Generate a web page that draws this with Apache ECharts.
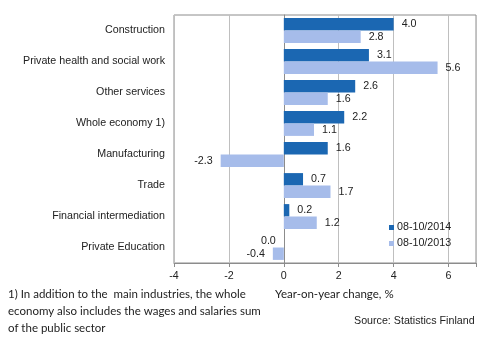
<!DOCTYPE html>
<html>
<head>
<meta charset="utf-8">
<script src="https://cdn.jsdelivr.net/npm/echarts@6/dist/echarts.min.js"></script>
<style>
  html, body { margin: 0; padding: 0; background: #fff; }
  #chart { width: 494px; height: 339px; }
</style>
</head>
<body>
<div id="chart"></div>
<script>
// Industries, top to bottom
const categories = [
  'Construction',
  'Private health and social work',
  'Other services',
  'Whole economy 1)',
  'Manufacturing',
  'Trade',
  'Financial intermediation',
  'Private Education'
];
// Year-on-year change, %
const values2014 = [4.0, 3.1, 2.6, 2.2, 1.6, 0.7, 0.2, 0.0];
const values2013 = [2.8, 5.6, 1.6, 1.1, -2.3, 1.7, 1.2, -0.4];
const seriesNames = ['08-10/2014', '08-10/2013'];
const tickValues = [-4, -2, 0, 2, 4, 6];

const FONT = '"Liberation Sans", Arial, sans-serif';
const NOTE_FONT = 'Lato, "Open Sans", sans-serif';
const FS = 10.7;

function withLabels(vals, forceLeftZero) {
  return vals.map(v => ({
    value: v,
    label: { position: (v < 0 || (forceLeftZero && v === 0)) ? 'left' : 'right' }
  }));
}

const chart = echarts.init(document.getElementById('chart'), null, { renderer: 'canvas' });

chart.setOption({
  animation: false,
  textStyle: { fontFamily: FONT },
  grid: {
    left: 174, right: 18, top: 15, bottom: 76,
    containLabel: false, outerBoundsMode: 'none',
    show: true, borderColor: '#8c8c8c', borderWidth: 1
  },
  xAxis: {
    type: 'value',
    min: -4, max: 7, interval: 2,
    axisLine: { show: true, onZero: false, lineStyle: { color: '#8c8c8c' } },
    axisTick: { show: true, length: 4, lineStyle: { color: '#8c8c8c' } },
    axisLabel: {
      color: '#222', fontSize: FS, fontFamily: FONT, margin: 8,
      formatter: v => tickValues.includes(v) ? String(v) : ''
    },
    splitLine: { show: true, lineStyle: { color: '#bfbfbf' } }
  },
  yAxis: {
    type: 'category',
    data: categories,
    inverse: true,
    axisLine: { show: true, onZero: true, lineStyle: { color: '#8c8c8c' } },
    axisTick: { show: false },
    axisLabel: { color: '#222', fontSize: FS, fontFamily: FONT, margin: 9 }
  },
  legend: {
    orient: 'vertical',
    left: 384, top: 217,
    itemWidth: 5, itemHeight: 5, itemGap: 5,
    icon: 'rect',
    textStyle: { color: '#222', fontSize: FS, fontFamily: FONT, padding: [0, 0, 0, -2] },
    data: seriesNames
  },
  series: [
    {
      name: seriesNames[0], type: 'bar',
      data: withLabels(values2014, true),
      itemStyle: { color: '#1b67b2' },
      barCategoryGap: '20%', barGap: '0%',
      label: { show: true, distance: 8, color: '#222', fontSize: FS, fontFamily: FONT, formatter: p => p.value.toFixed(1) }
    },
    {
      name: seriesNames[1], type: 'bar',
      data: withLabels(values2013, false),
      itemStyle: { color: '#a6bcea' },
      barCategoryGap: '20%', barGap: '0%',
      label: { show: true, distance: 8, color: '#222', fontSize: FS, fontFamily: FONT, formatter: p => p.value.toFixed(1) }
    }
  ],
  graphic: [
    { type: 'text', left: 8, top: 288, style: { text: '1) In addition to the  main industries, the whole', font: '11.5px ' + NOTE_FONT, fill: '#222' } },
    { type: 'text', left: 8, top: 305, style: { text: 'economy also includes the wages and salaries sum', font: '11.5px ' + NOTE_FONT, fill: '#222' } },
    { type: 'text', left: 8, top: 322, style: { text: 'of the public sector', font: '11.5px ' + NOTE_FONT, fill: '#222' } },
    { type: 'text', left: 275, top: 288, style: { text: 'Year-on-year change, %', font: '11.5px ' + NOTE_FONT, fill: '#222' } },
    { type: 'text', left: 354, top: 316, style: { text: 'Source: Statistics Finland', font: FS + 'px ' + FONT, fill: '#222' } }
  ]
});
</script>
</body>
</html>
